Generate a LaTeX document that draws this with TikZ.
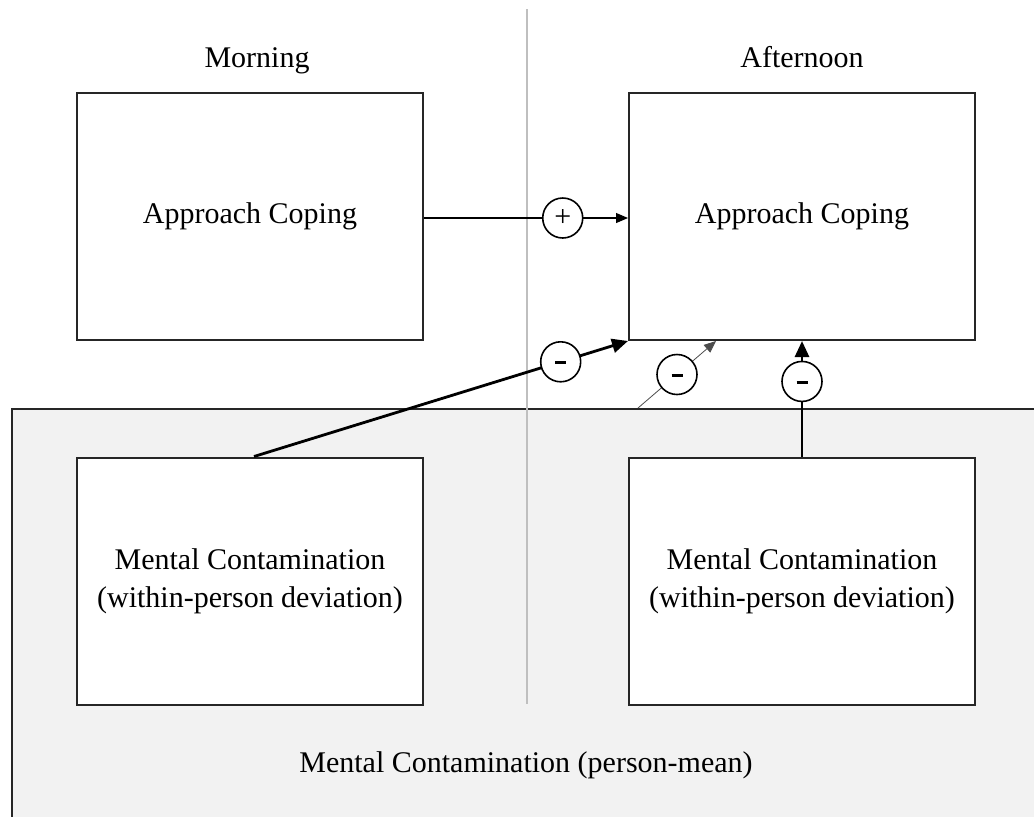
\documentclass[tikz,border=0pt]{standalone}
\usepackage{fontspec}
\setmainfont{Liberation Serif}
\usetikzlibrary{arrows.meta}
\newcommand{\minussign}{\raisebox{-2.5pt}{\rule{5.5pt}{1.5pt}}}
\begin{document}
\begin{tikzpicture}[x=0.5pt,y=-0.5pt,
  every node/.style={font=\fontsize{15}{19}\selectfont},
  boxnode/.style={draw=black!85,line width=1pt,fill=white,minimum width=173pt,minimum height=123.5pt,inner sep=0pt,align=center},
  signnode/.style={draw=black,fill=white,circle,line width=0.8pt,minimum size=20pt,inner sep=0pt},
  thinarrow/.style={line width=0.55pt,-{Triangle[length=6pt,width=5pt]}},
  thickarrow/.style={line width=1.4pt,-{Triangle[length=8pt,width=7pt]}},
  midarrow/.style={line width=0.4pt,draw=black!70,-{Triangle[length=6pt,width=5pt]}}]
\useasboundingbox (0,0) rectangle (1034,816);
\begin{scope}
\clip (0,0) rectangle (1034,816);
\node[draw=black!85,line width=1pt,fill=black!5,minimum width=520pt,minimum height=210pt,inner sep=0pt,anchor=north west] (pm) at (11,408) {};
\end{scope}
\node (pmlabel) at (526,765) {Mental Contamination (person-mean)};
\draw[line width=1pt,draw=black!25] (527,9) -- (527,704);
\node[anchor=base] (morning) at (257,67) {Morning};
\node[anchor=base] (afternoon) at (802,67) {Afternoon};
\node[boxnode] (mA) at (250,216.5) {Approach Coping};
\node[boxnode] (aA) at (802,216.5) {Approach Coping};
\node[boxnode] (wL) at (250,581) {Mental Contamination\\(within-person deviation)};
\node[boxnode] (wR) at (802,581) {Mental Contamination\\(within-person deviation)};
\draw[thinarrow] ([yshift=-0.75pt]mA.east) -- node[signnode,pos=0.68]{+} ([yshift=-0.75pt]aA.west);
\draw[thickarrow] ([xshift=2pt]wL.north) -- node[signnode,pos=0.82]{\minussign} (aA.south west);
\coordinate (thinstart) at (638,408);
\draw[midarrow] (thinstart) -- node[signnode,pos=0.5]{\minussign} ([xshift=-43pt]aA.south);
\draw[thickarrow] (wR.north) -- node[signnode,pos=0.65]{\minussign} (aA.south);
\end{tikzpicture}
\end{document}
